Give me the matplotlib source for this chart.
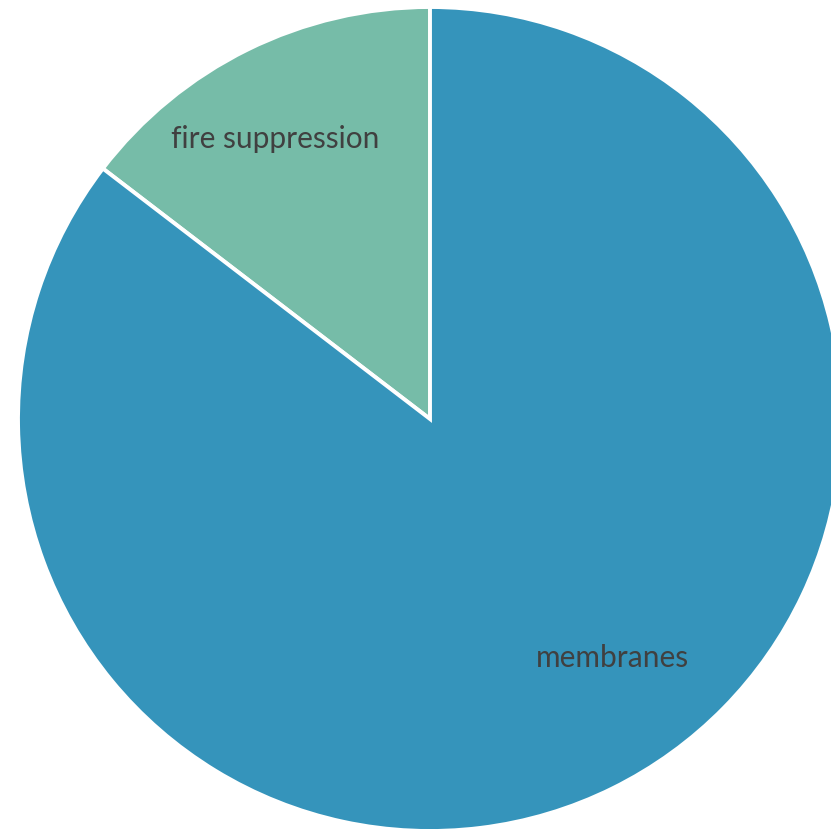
import matplotlib.pyplot as plt

# data
labels = ["fire suppression", "membranes"]
values = [14.6, 85.4]
colors = ["#76bca8", "#3594bb"]

plt.rcParams["font.family"] = ["Lato", "DejaVu Sans"]

fig = plt.figure(figsize=(8.31, 8.32), dpi=100)
# pie of radius 1 centred at about (430, 419) px, radius ~412 px
ax = fig.add_axes([18 / 831, 1 / 832, 824 / 831, 824 / 832])

wedges, _ = ax.pie(
    values,
    colors=colors,
    startangle=90,
    counterclock=True,
    radius=1.0,
    wedgeprops=dict(edgecolor="white", linewidth=2.8),
)

# label positions (in radius units)
label_pos = [(-0.375, 0.68), (0.443, -0.580)]
for lab, (x, y) in zip(labels, label_pos):
    ax.text(x, y, lab, ha="center", va="center", fontsize=21.5, color="#404040")

ax.set_xlim(-1, 1)
ax.set_ylim(-1, 1)
ax.set_aspect("equal")
ax.axis("off")

fig.savefig("out.png", dpi=100)
